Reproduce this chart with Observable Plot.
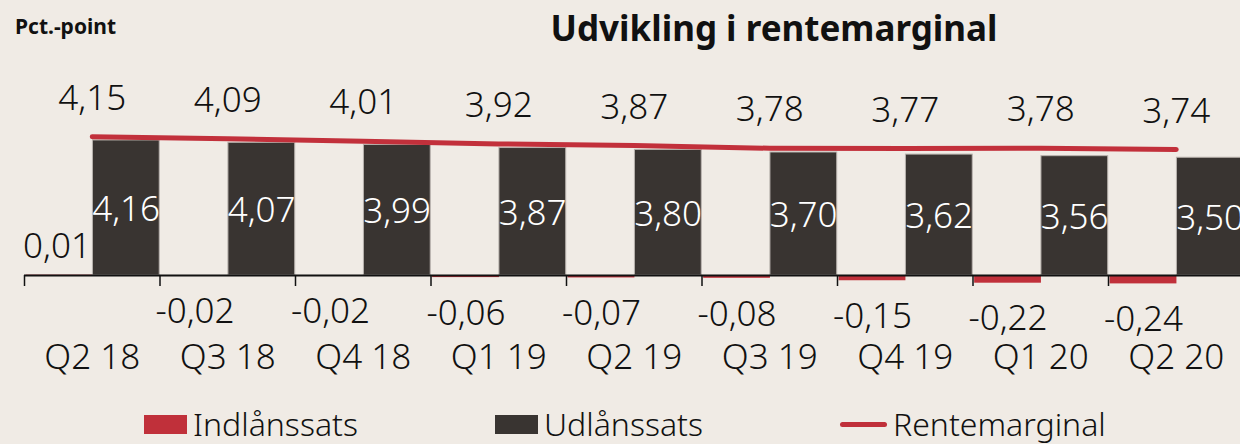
<!DOCTYPE html>
<html>
<head>
<meta charset="utf-8">
<script src="https://cdn.jsdelivr.net/npm/d3@7"></script>
<script src="https://cdn.jsdelivr.net/npm/@observablehq/plot@0.6"></script>
<style>
  html, body { margin: 0; padding: 0; background: #f0ebe5; }
  #wrap { position: relative; width: 1240px; height: 444px; overflow: hidden; background: #f0ebe5;
          font-family: "Noto Sans", "Liberation Sans Narrow", sans-serif; font-stretch: condensed; color: #111; }
  #chart { position: absolute; left: 0; top: 0; }
  .title { position: absolute; left: 774px; top: 10px; transform: translateX(-50%); white-space: nowrap;
           font-size: 35px; font-weight: 700; line-height: 1; }
  .ylab { position: absolute; left: 15px; top: 16px; font-size: 21px; font-weight: 700; line-height: 1; }
  .legend { position: absolute; left: 144px; top: 408px; display: flex; gap: 137px; align-items: center;
            font-size: 32px; font-weight: 300; line-height: 1; white-space: nowrap; }
  .item { display: flex; align-items: center; gap: 6px; }
  .sw { width: 43px; height: 19px; }
  .ln { width: 47px; height: 5px; border-radius: 3px; }
</style>
</head>
<body>
<div id="wrap">
  <div id="chart"></div>
  <div class="title" id="title"></div>
  <div class="ylab" id="ylab"></div>
  <div class="legend" id="legend"></div>
</div>
<script>
const titleText = "Udvikling i rentemarginal";
const yLabel = "Pct.-point";
const quarters = ["Q2 18","Q3 18","Q4 18","Q1 19","Q2 19","Q3 19","Q4 19","Q1 20","Q2 20"];
const indlaan = [0.01,-0.02,-0.02,-0.06,-0.07,-0.08,-0.15,-0.22,-0.24];
const udlaan = [4.16,4.07,3.99,3.87,3.80,3.70,3.62,3.56,3.50];
const rentemargin = [4.15,4.09,4.01,3.92,3.87,3.78,3.77,3.78,3.74];
const seriesNames = ["Indlånssats","Udlånssats","Rentemarginal"];
const colors = {red: "#c0303a", dark: "#393431"};

const data = quarters.map((q, i) => ({q, i, ind: indlaan[i], ud: udlaan[i], rm: rentemargin[i]}));
// secondary axes (as in the original Excel chart) expressed in primary units
const udl = v => 0.743 + 0.749 * v;
const rml = v => 0.286 + 0.886 * v;
const fmt = v => v.toFixed(2).replace(".", ",");

const plot = Plot.plot({
  width: 1240, height: 444,
  marginTop: 0, marginRight: 0, marginLeft: 0, marginBottom: 169,
  style: {background: "transparent", fontFamily: '"Noto Sans", "Liberation Sans Narrow", sans-serif',
          fontStretch: "condensed", fontWeight: 300, fontSize: "35px", color: "#111", overflow: "visible"},
  x: {type: "linear", domain: [0, 9], range: [24, 1243.5]},
  y: {domain: [0, 1], range: [275, 240], axis: null},
  marks: [
    Plot.rectY(data, {x1: d => d.i + 0.012, x2: d => d.i + 0.505, y1: 0, y2: "ind", fill: colors.red}),
    Plot.rectY(data, {x1: d => d.i + 0.505, x2: d => d.i + 0.998, y1: 0, y2: d => udl(d.ud),
                      fill: colors.dark, stroke: "#b9b3ae", strokeWidth: 1}),
    Plot.ruleY([0], {x1: 0, x2: 9, stroke: "#111", strokeWidth: 2}),
    Plot.axisX(d3.range(9), {tickSize: 11, tickFormat: () => "", stroke: "#111", strokeWidth: 1.5}),
    Plot.line(data, {x: d => d.i + 0.5, y: d => rml(d.rm), stroke: "#c2303b", strokeWidth: 5, strokeLinecap: "round"}),
    Plot.text(data, {x: d => d.i + 0.5, y: d => rml(d.rm), dy: -38, text: d => fmt(d.rm), fill: "#111"}),
    Plot.text(data, {x: d => d.i + 0.75, y: d => udl(d.ud) / 2, dy: 2, text: d => fmt(d.ud), fill: "#fff"}),
    Plot.text(data.filter(d => d.ind < 0), {x: d => d.i + 0.258, y: "ind", dy: 36, text: d => fmt(d.ind), fill: "#111"}),
    Plot.text(data.filter(d => d.ind >= 0), {x: d => d.i + 0.24, y: "ind", dy: -28, text: d => fmt(d.ind), fill: "#111"}),
    Plot.text(data, {x: d => d.i + 0.5, y: 0, dy: 82, text: "q", fill: "#111"})
  ]
});
document.getElementById("chart").appendChild(plot);
document.getElementById("title").textContent = titleText;
document.getElementById("ylab").textContent = yLabel;

const legend = document.getElementById("legend");
seriesNames.forEach((name, k) => {
  const item = document.createElement("div");
  item.className = "item";
  const sw = document.createElement("div");
  sw.className = k === 2 ? "ln" : "sw";
  sw.style.background = k === 1 ? colors.dark : colors.red;
  const t = document.createElement("span");
  t.textContent = name;
  item.appendChild(sw); item.appendChild(t);
  legend.appendChild(item);
});
</script>
</body>
</html>
